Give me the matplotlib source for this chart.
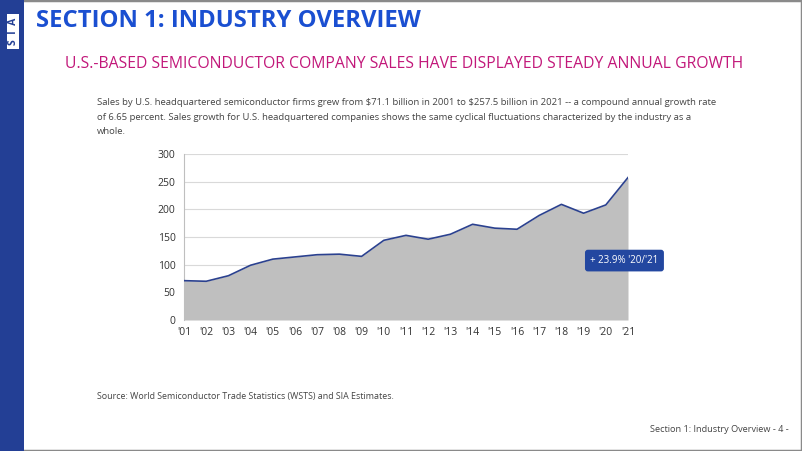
import matplotlib.pyplot as plt
from matplotlib.patches import Rectangle

years = ["'01", "'02", "'03", "'04", "'05", "'06", "'07", "'08", "'09", "'10", "'11",
         "'12", "'13", "'14", "'15", "'16", "'17", "'18", "'19", "'20", "'21"]
sales = [71.1, 70, 80, 99, 110, 114, 118, 119, 115, 144, 153,
         146, 155, 173, 166, 164, 189, 209, 193, 208, 257.5]
yticks = [0, 50, 100, 150, 200, 250, 300]

W, H = 802, 451
plt.rcParams['font.family'] = ['Open Sans', 'DejaVu Sans']

fig = plt.figure(figsize=(W / 100, H / 100), dpi=100)
fig.patch.set_facecolor('white')

def fx(px):
    return px / W

def fy(py):
    return 1 - py / H

# page border and left bar
fig.patches.append(Rectangle((0, 0), 1, 1, transform=fig.transFigure, fill=False,
                             edgecolor='#8a8a8a', linewidth=2.5))
fig.patches.append(Rectangle((0, 0), fx(24), 1, transform=fig.transFigure,
                             facecolor='#233f95', edgecolor='none'))
fig.patches.append(Rectangle((fx(7), fy(49)), fx(12), 35 / H, transform=fig.transFigure,
                             facecolor='white', edgecolor='none'))
fig.text(fx(13), fy(31.5), 'S  I  A', rotation=90, ha='center', va='center',
         fontsize=7.5, color='#233f95', fontweight='bold')

# headings
fig.text(fx(36), fy(21), 'SECTION 1: INDUSTRY OVERVIEW', fontsize=17.2, fontweight='bold',
         color='#1a4fd1', va='center', ha='left')
fig.text(fx(404), fy(64), 'U.S.-BASED SEMICONDUCTOR COMPANY SALES HAVE DISPLAYED STEADY ANNUAL GROWTH',
         fontsize=11.3, color='#c2187a', va='center', ha='center')
body = ("Sales by U.S. headquartered semiconductor firms grew from \\$71.1 billion in 2001 to \\$257.5 billion in 2021 -- a compound annual growth rate\n"
        "of 6.65 percent. Sales growth for U.S. headquartered companies shows the same cyclical fluctuations characterized by the industry as a\n"
        "whole.")
fig.text(fx(97), fy(98), body, fontsize=6.8, color='#444444', va='top', ha='left', linespacing=1.8)
fig.text(fx(97), fy(397), 'Source: World Semiconductor Trade Statistics (WSTS) and SIA Estimates.',
         fontsize=6.4, color='#444444', va='center', ha='left')
fig.text(fx(789), fy(430), 'Section 1: Industry Overview - 4 -', fontsize=6.6, color='#444444',
         va='center', ha='right')

# chart
ax = fig.add_axes([fx(184), fy(320), (628 - 184) / W, (320 - 154) / H])
x = list(range(len(years)))
ax.fill_between(x, sales, 0, color='#bfbfbf', linewidth=0, zorder=2)
ax.plot(x, sales, color='#2b418f', linewidth=1.2, zorder=3)
ax.set_xlim(0, len(years) - 1)
ax.set_ylim(0, 300)
ax.set_yticks(yticks)
ax.set_xticks(x)
ax.set_xticklabels(years)
ax.grid(axis='y', color='#d9d9d9', linewidth=0.8, zorder=1)
for s in ['top', 'right', 'bottom']:
    ax.spines[s].set_visible(False)
ax.spines['left'].set_color('#bfbfbf')
ax.tick_params(axis='both', length=0, labelsize=7.5, labelcolor='#333333')
ax.tick_params(axis='x', pad=5)
ax.tick_params(axis='y', pad=6)

ax.text(0.992, 0.358, "+ 23.9% '20/'21", transform=ax.transAxes, ha='center', va='center',
        fontsize=7, color='white', zorder=5,
        bbox=dict(boxstyle='round,pad=0.55,rounding_size=0.3', facecolor='#2347a0',
                  edgecolor='none'))

fig.savefig('out.png', dpi=100)
